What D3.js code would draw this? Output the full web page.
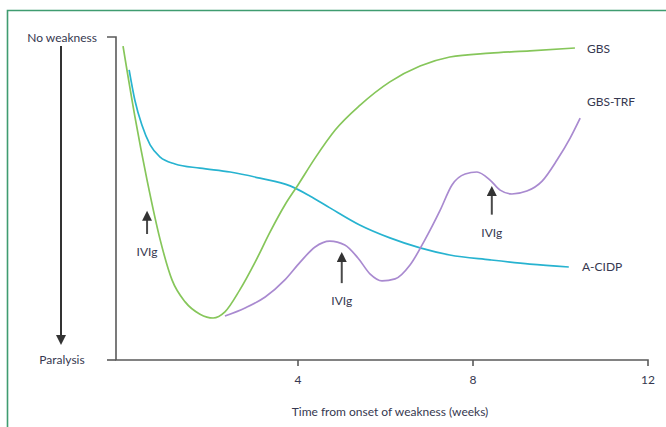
<!DOCTYPE html>
<html>
<head>
<meta charset="utf-8">
<script src="https://cdn.jsdelivr.net/npm/d3@7"></script>
<style>
  body { margin: 0; background: #fff; }
  text { font-family: Lato, "Open Sans", sans-serif; fill: #363850; }
</style>
</head>
<body>
<svg id="chart" width="666" height="427"></svg>
<script>
// data: x = weeks from onset, y = strength score (0 = paralysis, 100 = no weakness)
var gbsWeeks   = [0, 0.27, 0.55, 0.85, 1.12, 1.42, 1.76, 2.06, 2.33, 2.67, 3.02, 3.36, 3.70, 4.00, 4.39, 4.85, 5.42, 6.10, 6.79, 7.47, 8.39, 9.30, 10.33];
var gbsScore   = [97.2, 75.5, 55.7, 37.2, 24.8, 18.0, 14.2, 13.0, 14.9, 21.7, 30.3, 39.6, 48.0, 54.2, 62.5, 71.2, 78.9, 86.1, 91.0, 93.8, 95.0, 95.7, 96.6];

var cidpWeeks  = [0.14, 0.27, 0.43, 0.62, 0.85, 1.19, 1.76, 2.45, 3.13, 3.82, 4.27, 4.73, 5.41, 6.10, 6.79, 7.47, 8.39, 9.30, 10.19];
var cidpScore  = [89.8, 80.5, 72.8, 66.6, 62.8, 60.7, 59.4, 58.2, 56.3, 53.9, 50.8, 47.1, 41.8, 37.8, 34.7, 32.5, 31.0, 29.7, 28.8];

var trfWeeks   = [2.33, 2.79, 3.25, 3.70, 4.05, 4.39, 4.73, 5.07, 5.37, 5.65, 5.92, 6.22, 6.56, 6.90, 7.25, 7.52, 7.82, 8.09, 8.39, 8.62, 8.89, 9.23, 9.58, 9.92, 10.22, 10.45];
var trfScore   = [13.6, 16.1, 19.5, 24.8, 30.3, 35.0, 36.8, 35.6, 31.6, 26.6, 24.5, 25.1, 29.4, 37.2, 46.4, 54.2, 57.6, 58.2, 55.7, 52.6, 51.4, 52.3, 55.4, 61.9, 68.7, 74.9];

var seriesNames = ["GBS", "GBS-TRF", "A-CIDP"];
var xTicks = [4, 8, 12];

// IVIg treatment markers: week, arrow tip score, arrow tail score
var ivigWeeks = [0.55, 5.0, 8.43];
var ivigTip   = [47.1, 34.4, 54.8];
var ivigTail  = [39.0, 23.8, 45.0];

var svg = d3.select("#chart");

// frame
svg.append("path")
    .attr("d", "M7.5,427 V10.5 H666")
    .attr("fill", "none")
    .attr("stroke", "#3f9c70")
    .attr("stroke-width", 1.6);

var x = d3.scaleLinear().domain([0, 12]).range([123, 648]);
var y = d3.scaleLinear().domain([0, 100]).range([360, 37]);

var defs = svg.append("defs");
defs.append("marker")
    .attr("id", "head")
    .attr("viewBox", "0 0 10 10")
    .attr("refX", 2).attr("refY", 5)
    .attr("markerWidth", 5.5).attr("markerHeight", 5)
    .attr("markerUnits", "strokeWidth")
    .attr("orient", "auto")
    .append("path")
    .attr("d", "M0,0 L10,5 L0,10 Z")
    .attr("fill", "#333");

// axes
var axisG = svg.append("g").attr("stroke", "#5a5a5a").attr("stroke-width", 1.6).attr("fill", "none");
axisG.append("path").attr("d", "M107," + y(100) + " H116 V360 H" + x(12) + " V366");
axisG.selectAll("line.tick")
    .data(xTicks.slice(0, 2))
    .enter().append("line")
    .attr("x1", function(d){ return x(d); })
    .attr("x2", function(d){ return x(d); })
    .attr("y1", 360).attr("y2", 366);
axisG.append("line")
    .attr("x1", 107).attr("x2", 116).attr("y1", 360).attr("y2", 360);

svg.selectAll("text.xtick")
    .data(xTicks)
    .enter().append("text")
    .attr("class", "xtick")
    .attr("x", function(d){ return x(d); })
    .attr("y", 383.5)
    .attr("text-anchor", "middle")
    .attr("font-size", 12)
    .text(function(d){ return d; });

svg.append("text")
    .attr("x", 390).attr("y", 416)
    .attr("text-anchor", "middle")
    .attr("font-size", 12)
    .text("Time from onset of weakness (weeks)");

svg.append("text")
    .attr("x", 97).attr("y", 42)
    .attr("text-anchor", "end")
    .attr("font-size", 12)
    .text("No weakness");

svg.append("text")
    .attr("x", 62).attr("y", 364)
    .attr("text-anchor", "middle")
    .attr("font-size", 12)
    .text("Paralysis");

// weakness arrow
svg.append("line")
    .attr("x1", 61).attr("x2", 61)
    .attr("y1", 46).attr("y2", 337)
    .attr("stroke", "#333").attr("stroke-width", 2)
    .attr("marker-end", "url(#head)");

// curves
var line = d3.line()
    .x(function(d){ return x(d[0]); })
    .y(function(d){ return y(d[1]); })
    .curve(d3.curveMonotoneX);

var series = [
    { name: seriesNames[0], pts: d3.zip(gbsWeeks, gbsScore), color: "#86c65a" },
    { name: seriesNames[1], pts: d3.zip(trfWeeks, trfScore), color: "#a98ad0" },
    { name: seriesNames[2], pts: d3.zip(cidpWeeks, cidpScore), color: "#27b3d0" }
];

svg.append("g").selectAll("path")
    .data([series[2], series[1], series[0]])
    .enter().append("path")
    .attr("d", function(d){ return line(d.pts); })
    .attr("fill", "none")
    .attr("stroke", function(d){ return d.color; })
    .attr("stroke-width", 1.7);

// series labels
var labelPos = [[587, 53], [587, 106], [582, 271]];
svg.selectAll("text.slabel")
    .data(series)
    .enter().append("text")
    .attr("class", "slabel")
    .attr("x", function(d, i){ return labelPos[i][0]; })
    .attr("y", function(d, i){ return labelPos[i][1]; })
    .attr("font-size", 12)
    .text(function(d){ return d.name; });

// IVIg arrows
var ivig = svg.append("g");
ivigWeeks.forEach(function(w, i){
    ivig.append("line")
        .attr("x1", x(w)).attr("x2", x(w))
        .attr("y1", y(ivigTail[i])).attr("y2", y(ivigTip[i]) + 11)
        .attr("stroke", "#4a4a4a").attr("stroke-width", 2)
        .attr("marker-end", "url(#head)");
    ivig.append("text")
        .attr("x", x(w)).attr("y", y(ivigTail[i]) + 22)
        .attr("text-anchor", "middle")
        .attr("font-size", 12)
        .text("IVIg");
});
</script>
</body>
</html>
